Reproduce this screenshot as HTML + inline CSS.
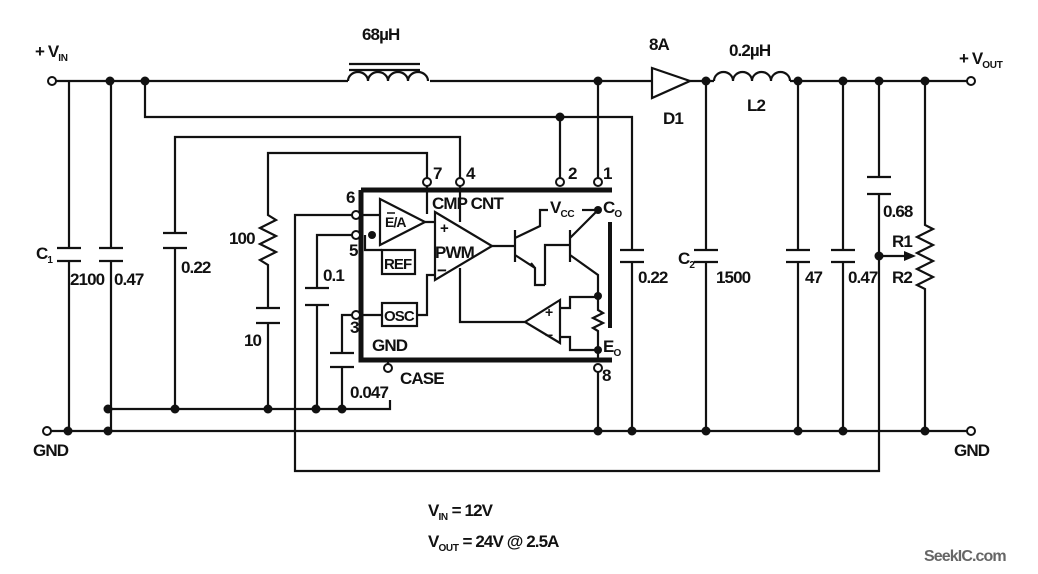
<!DOCTYPE html>
<html><head><meta charset="utf-8"><style>
html,body{margin:0;padding:0;background:#fff;}
svg{display:block}
text{font-family:"Liberation Sans",sans-serif;font-weight:bold;font-size:17px;fill:#111;letter-spacing:-0.9px}
.s{font-size:10px;letter-spacing:-0.3px}
</style></head><body>
<svg width="1038" height="574" viewBox="0 0 1038 574" xmlns="http://www.w3.org/2000/svg">
<g stroke="#111" stroke-width="2.2" fill="none">
<path d="M56 81H348 M430 81H652 M690 81H714 M790 81H967"/>
<path d="M348 81 a10 9 0 0 1 20 0 a10 9 0 0 1 20 0 a10 9 0 0 1 20 0 a10 9 0 0 1 20 0"/>
<path d="M349 64H420 M349 70H420"/>
<path d="M652 68 L690 81 L652 98 Z" fill="#fff"/>
<path d="M714 81 a9.5 9 0 0 1 19 0 a9.5 9 0 0 1 19 0 a9.5 9 0 0 1 19 0 a9.5 9 0 0 1 19 0"/>
<path d="M51 431H967"/>
<path d="M108 409H390V400"/>
<path d="M69 81V248 M57 248H81 M57 261H81 M69 261V431"/>
<path d="M111 81V248 M99 248H123 M99 261H123 M111 261V431"/>
<path d="M145 81V117H632V250 M620 250H644 M620 262H644 M632 262V431"/>
<path d="M175 409V248 M163 233H187 M163 248H187 M175 233V137H460V178"/>
<path d="M268 409V323 M256 323H280 M256 308H280 M268 308V265 l-8 -5 l16 -8 l-16 -8 l16 -8 l-16 -8 l16 -8 l-8 -5 V153H427V178"/>
<path d="M352 215H295V471H879V290"/>
<path d="M352 235H317V288 M305 288H329 M305 305H329 M317 305V409"/>
<path d="M352 315H342V353 M330 353H354 M330 367H354 M342 367V409"/>
<path d="M560 117V178 M598 81V178 M598 372V431"/>
<path d="M706 81V250 M694 250H718 M694 262H718 M706 262V431"/>
<path d="M798 81V250 M786 250H810 M786 262H810 M798 262V431"/>
<path d="M843 81V250 M831 250H855 M831 262H855 M843 262V431"/>
<path d="M879 81V177 M867 177H891 M867 194H891 M879 194V290"/>
<path d="M925 81V225 l8 4 l-16 8 l16 8 l-16 8 l16 8 l-16 8 l16 8 l-16 8 l8 4 V431"/>
<path d="M879 256H908"/>
<path d="M361 190H612 M361 190V360H612" stroke-width="5"/>
<path d="M610 222V328" stroke-width="4"/>
<path d="M388 360V364"/>
<path d="M380 199L425 222L380 245Z"/>
<path d="M361 215H380 M365 235V250H382 M425 222H435 M427 186V214"/>
<rect x="382" y="250" width="33" height="24"/>
<rect x="382" y="303" width="35" height="23"/>
<path d="M361 315H382 M417 315H427V275H435"/>
<path d="M435 212L492 246L435 280Z"/>
<path d="M460 186V222 M460 268V322H525 M492 246H515"/>
<path d="M515 230V262 M515 238L540 226V210H548 M515 255L535 268V285H545 M535 268l-4 -5"/>
<path d="M582 210H598"/>
<path d="M545 285V245H570 M570 230V262 M570 238L598 210 M570 255L598 275V300"/>
<path d="M560 300L525 322L560 343Z"/>
<path d="M560 308H570V297H598 M560 337H570V350H598 M598 300V310 l5 3 l-10 5 l10 5 l-10 5 l5 3 V360"/>
</g>
<g fill="#111">
<circle cx="110" cy="81" r="4.5"/><circle cx="145" cy="81" r="4.5"/><circle cx="598" cy="81" r="4.5"/>
<circle cx="706" cy="81" r="4.5"/><circle cx="798" cy="81" r="4.5"/><circle cx="843" cy="81" r="4.5"/>
<circle cx="879" cy="81" r="4.5"/><circle cx="925" cy="81" r="4.5"/><circle cx="560" cy="117" r="4.5"/>
<circle cx="68" cy="431" r="4.5"/><circle cx="108" cy="431" r="4.5"/><circle cx="108" cy="409" r="4.5"/>
<circle cx="175" cy="409" r="4.5"/><circle cx="268" cy="409" r="4.5"/><circle cx="316" cy="409" r="4.5"/>
<circle cx="342" cy="409" r="4.5"/><circle cx="598" cy="431" r="4.5"/><circle cx="632" cy="431" r="4.5"/>
<circle cx="706" cy="431" r="4.5"/><circle cx="798" cy="431" r="4.5"/><circle cx="843" cy="431" r="4.5"/>
<circle cx="925" cy="431" r="4.5"/><circle cx="879" cy="256" r="4.5"/>
<circle cx="372" cy="235" r="4"/><circle cx="598" cy="210" r="4"/><circle cx="598" cy="296" r="4"/><circle cx="598" cy="350" r="4"/>
<path d="M916 256L904 251V261Z"/>
</g>
<g stroke="#111" stroke-width="2" fill="#fff">
<circle cx="52" cy="81" r="4"/><circle cx="47" cy="431" r="4"/><circle cx="971" cy="81" r="4"/><circle cx="971" cy="431" r="4"/>
<circle cx="427" cy="182" r="4"/><circle cx="460" cy="182" r="4"/><circle cx="560" cy="182" r="4"/><circle cx="598" cy="182" r="4"/>
<circle cx="356" cy="215" r="4"/><circle cx="356" cy="235" r="4"/><circle cx="356" cy="315" r="4"/>
<circle cx="598" cy="368" r="4"/><circle cx="388" cy="368" r="4"/>
</g>
<text x="35" y="57">+ V<tspan class="s" dy="4">IN</tspan></text>
<text x="33" y="456">GND</text>
<text x="362" y="40">68µH</text>
<text x="649" y="50">8A</text>
<text x="729" y="56">0.2µH</text>
<text x="663" y="124">D1</text>
<text x="747" y="111">L2</text>
<text x="959" y="64">+ V<tspan class="s" dy="4">OUT</tspan></text>
<text x="954" y="456">GND</text>
<text x="36" y="259">C<tspan class="s" dy="4">1</tspan></text>
<text x="70" y="285">2100</text>
<text x="114" y="285">0.47</text>
<text x="181" y="273">0.22</text>
<text x="229" y="244">100</text>
<text x="244" y="346">10</text>
<text x="323" y="281">0.1</text>
<text x="350" y="398">0.047</text>
<text x="346" y="203">6</text>
<text x="349" y="256">5</text>
<text x="350" y="333">3</text>
<text x="433" y="179">7</text>
<text x="466" y="179">4</text>
<text x="568" y="179">2</text>
<text x="603" y="179">1</text>
<text x="602" y="381">8</text>
<text x="432" y="209">CMP CNT</text>
<text x="550" y="213">V<tspan class="s" dy="4">CC</tspan></text>
<text x="603" y="213">C<tspan class="s" dy="4">O</tspan></text>
<text x="603" y="352">E<tspan class="s" dy="4">O</tspan></text>
<text x="372" y="351">GND</text>
<text x="400" y="384">CASE</text>
<text x="385" y="227" style="font-size:14px">E/A</text>
<path d="M387 213H395" stroke="#111" stroke-width="1.5"/>
<text x="384" y="269" style="font-size:15px">REF</text>
<text x="384" y="321" style="font-size:15px">OSC</text>
<text x="440" y="233" style="font-size:15px">+</text>
<text x="435" y="258">PWM</text>
<text x="437" y="276">−</text>
<text x="545" y="317" style="font-size:14px">+</text>
<text x="545" y="340" style="font-size:14px">−</text>
<text x="638" y="283">0.22</text>
<text x="678" y="264">C<tspan class="s" dy="4">2</tspan></text>
<text x="716" y="283">1500</text>
<text x="805" y="283">47</text>
<text x="848" y="283">0.47</text>
<text x="883" y="217">0.68</text>
<text x="892" y="247">R1</text>
<text x="892" y="283">R2</text>
<text x="428" y="516">V<tspan class="s" dy="4">IN</tspan><tspan dy="-4"> = 12V</tspan></text>
<text x="428" y="547">V<tspan class="s" dy="4">OUT</tspan><tspan dy="-4"> = 24V @ 2.5A</tspan></text>
<text x="924" y="561" style="fill:#666;font-size:16px">SeekIC.com</text>
</svg>
</body></html>
